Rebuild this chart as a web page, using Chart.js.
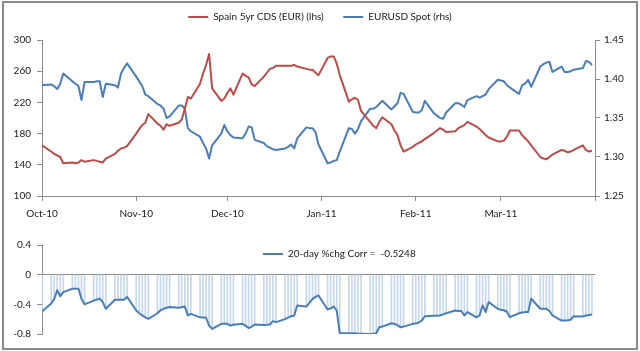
<!DOCTYPE html>
<html>
<head>
<meta charset="utf-8">
<script src="https://cdn.jsdelivr.net/npm/chart.js@4.4.1/dist/chart.umd.min.js"></script>
<style>
html,body{margin:0;padding:0;background:#fff;}
#wrap{position:relative;width:640px;height:351px;overflow:hidden;background:#fff;}
#frame{position:absolute;left:2px;top:1px;width:632px;height:345px;border:2px solid #8a8a8a;}
#c1{position:absolute;left:0;top:0;}
#c2{position:absolute;left:0;top:222px;}
</style>
</head>
<body>
<div id="wrap">
  <div id="frame"></div>
  <canvas id="c1" width="640" height="222"></canvas>
  <canvas id="c2" width="640" height="126"></canvas>
</div>
<script>
// ---------------- DATA ----------------
const dates = [
 '2010-10-01','2010-10-04','2010-10-05','2010-10-06','2010-10-07','2010-10-08','2010-10-11','2010-10-12','2010-10-13','2010-10-14','2010-10-15',
 '2010-10-18','2010-10-19','2010-10-20','2010-10-21','2010-10-22','2010-10-25','2010-10-26','2010-10-27','2010-10-28','2010-10-29',
 '2010-11-01','2010-11-02','2010-11-03','2010-11-04','2010-11-05','2010-11-08','2010-11-09','2010-11-10','2010-11-11','2010-11-12',
 '2010-11-15','2010-11-16','2010-11-17','2010-11-18','2010-11-19','2010-11-22','2010-11-23','2010-11-24','2010-11-25','2010-11-26','2010-11-29','2010-11-30',
 '2010-12-01','2010-12-02','2010-12-03','2010-12-06','2010-12-07','2010-12-08','2010-12-09','2010-12-10','2010-12-13','2010-12-14','2010-12-15',
 '2010-12-16','2010-12-17','2010-12-20','2010-12-21','2010-12-22','2010-12-23','2010-12-24','2010-12-27','2010-12-28','2010-12-29','2010-12-30','2010-12-31',
 '2011-01-03','2011-01-04','2011-01-05','2011-01-06','2011-01-07','2011-01-10','2011-01-11','2011-01-12','2011-01-13','2011-01-14',
 '2011-01-17','2011-01-18','2011-01-19','2011-01-20','2011-01-21','2011-01-24','2011-01-25','2011-01-26','2011-01-27','2011-01-28','2011-01-31',
 '2011-02-01','2011-02-02','2011-02-03','2011-02-04','2011-02-07','2011-02-08','2011-02-09','2011-02-10','2011-02-11','2011-02-14',
 '2011-02-15','2011-02-16','2011-02-17','2011-02-18','2011-02-21','2011-02-22','2011-02-23','2011-02-24','2011-02-25','2011-02-28',
 '2011-03-01','2011-03-02','2011-03-03','2011-03-04','2011-03-07','2011-03-08','2011-03-09','2011-03-10','2011-03-11','2011-03-14','2011-03-15',
 '2011-03-16','2011-03-17','2011-03-18','2011-03-21','2011-03-22','2011-03-23','2011-03-24','2011-03-25','2011-03-28','2011-03-29','2011-03-30','2011-03-31'
];

const spainCds = [
 165,157,154,152,150,142,143,142,143,146,144,146,145,144,143,148,154,158,161,162,164,
 180,186,191,194,205,193,190,185,192,190,194,198,212,227,225,244,257,268,282,238,222,225,
 232,238,230,257,254,252,243,241,253,258,263,264,267,267,267,267,268,266,263,262,262,258,255,
 277,279,279,270,255,221,224,226,223,209,195,190,187,195,201,192,184,178,165,157,163,
 166,168,170,173,181,184,187,185,182,183,187,189,191,195,189,186,182,178,175,170,
 170,171,176,184,184,178,174,170,165,150,148,147,150,153,159,158,156,157,159,165,159,157,158
];

const eurusd = [
 1.392,1.393,1.391,1.387,1.394,1.407,1.397,1.394,1.391,1.373,1.396,1.396,1.397,1.397,1.377,1.394,1.392,1.389,1.407,1.414,1.420,
 1.403,1.397,1.391,1.380,1.378,1.368,1.366,1.362,1.350,1.352,1.366,1.366,1.362,1.337,1.333,1.326,1.318,1.311,1.298,1.315,1.330,1.341,
 1.333,1.328,1.325,1.324,1.330,1.339,1.338,1.322,1.318,1.314,1.312,1.310,1.309,1.311,1.313,1.316,1.311,1.324,1.338,1.337,1.337,1.332,1.316,
 1.292,1.293,1.295,1.296,1.307,1.337,1.336,1.330,1.336,1.346,1.362,1.362,1.364,1.368,1.372,1.361,1.365,1.369,1.382,1.381,1.358,
 1.357,1.357,1.360,1.372,1.356,1.353,1.350,1.349,1.357,1.369,1.369,1.367,1.364,1.373,1.378,1.376,1.378,1.380,1.387,1.399,
 1.398,1.397,1.392,1.389,1.381,1.392,1.394,1.399,1.390,1.416,1.419,1.421,1.422,1.409,1.416,1.409,1.409,1.410,1.412,1.414,1.423,1.422,1.418
];

const corr20d = [
 -0.496,-0.39,-0.33,-0.21,-0.29,-0.235,-0.19,-0.19,-0.19,-0.325,-0.40,-0.35,-0.335,-0.325,-0.37,-0.46,-0.338,-0.338,-0.338,-0.338,-0.30,
 -0.483,-0.52,-0.55,-0.575,-0.595,-0.52,-0.48,-0.46,-0.447,-0.435,-0.445,-0.44,-0.43,-0.55,-0.528,-0.575,-0.578,-0.582,-0.686,-0.73,-0.663,-0.663,
 -0.663,-0.686,-0.675,-0.663,-0.69,-0.72,-0.70,-0.672,-0.677,-0.675,-0.672,-0.627,-0.64,-0.60,-0.58,-0.56,-0.55,-0.415,-0.43,-0.38,-0.33,-0.30,-0.28,
 -0.47,-0.455,-0.43,-0.483,-0.79,-0.79,-0.79,-0.79,-0.795,-0.795,-0.80,-0.795,-0.79,-0.71,-0.70,-0.655,-0.665,-0.68,-0.71,-0.70,-0.663,
 -0.66,-0.645,-0.62,-0.56,-0.555,-0.553,-0.55,-0.535,-0.52,-0.483,-0.49,-0.49,-0.55,-0.505,-0.575,-0.55,-0.415,-0.505,-0.37,-0.46,
 -0.474,-0.48,-0.50,-0.573,-0.52,-0.51,-0.505,-0.505,-0.325,-0.46,-0.46,-0.46,-0.49,-0.55,-0.618,-0.618,-0.615,-0.609,-0.56,-0.564,-0.55,-0.545,-0.537
];

const corrValue = '-0.5248';
const seriesNames = ['Spain 5yr CDS (EUR) (lhs)', 'EURUSD Spot (rhs)', '20-day %chg Corr =  ' + corrValue];

const monthTickDates = ['2010-10-01','2010-11-01','2010-12-01','2011-01-01','2011-02-01','2011-03-01','2011-04-01'];
const monthTickLabels = ['Oct-10','Nov-10','Dec-10','Jan-11','Feb-11','Mar-11',''];
const cdsTicks = [100,140,180,220,260,300];
const fxTicks = [1.25,1.30,1.35,1.40,1.45];
const corrTicks = [-0.8,-0.4,0,0.4];

// ---------------- HELPERS ----------------
const ORIGIN = Date.UTC(2010,9,1);
const toDay = s => { const p = s.split('-').map(Number); return Math.round((Date.UTC(p[0],p[1]-1,p[2]) - ORIGIN)/864e5); };
const xDays = dates.map(toDay);
const tickDays = monthTickDates.map(toDay);
const pts = arr => arr.map((v,i)=>({x:xDays[i], y:v}));

const FONT = "Lato, 'Liberation Sans', sans-serif";
Chart.defaults.font.family = FONT;
Chart.defaults.font.size = 10;
Chart.defaults.color = '#1a1a1a';
const AXIS = '#8c8c8c';
const RED = '#be4b48';
const BLUE = '#4a7ebb';
const DROP = '#c6d8ef';

const legendHeightPlugin = h => ({
  id: 'legendHeight',
  beforeInit(chart) {
    const lg = chart.legend; if (!lg) return;
    const f = lg.fit.bind(lg);
    lg.fit = function(){ f(); this.height = h; };
  }
});
const legendShiftPlugin = (dx, dy) => ({
  id: 'legendShift',
  afterLayout(chart) {
    const lg = chart.legend;
    if (lg) { lg.left += dx; lg.right += dx; lg.top += dy; lg.bottom += dy; }
  }
});
const lineLegendLabels = chart => chart.data.datasets
  .map((ds,i)=>({ds,i}))
  .filter(o=>o.ds.showInLegend !== false)
  .map(o=>({ text: o.ds.legendText || o.ds.label, fillStyle: o.ds.borderColor, strokeStyle: o.ds.borderColor,
            lineWidth: 0, hidden: false, datasetIndex: o.i, fontColor: '#1a1a1a' }));

// ---------------- TOP CHART ----------------
new Chart(document.getElementById('c1'), {
  type: 'line',
  data: {
    datasets: [
      { label: seriesNames[0], legendText: seriesNames[0] + '\u2003', data: pts(spainCds), yAxisID: 'y',
        borderColor: RED, backgroundColor: RED, borderWidth: 2, pointRadius: 0, tension: 0, borderJoinStyle: 'round' },
      { label: seriesNames[1], data: pts(eurusd), yAxisID: 'y1',
        borderColor: BLUE, backgroundColor: BLUE, borderWidth: 2, pointRadius: 0, tension: 0, borderJoinStyle: 'round' }
    ]
  },
  options: {
    responsive: false, animation: false, events: [],
    layout: { padding: { top: 0, left: 0, right: 0, bottom: 0 } },
    plugins: {
      tooltip: { enabled: false },
      legend: { display: true, position: 'top',
        labels: { boxWidth: 20, boxHeight: 2, padding: 12, font: { size: 10, family: FONT }, generateLabels: lineLegendLabels } }
    },
    scales: {
      x: { type: 'linear', min: 0, max: 182, offset: false,
        afterBuildTicks: s => { s.ticks = tickDays.map(v=>({value:v})); },
        ticks: { autoSkip: false, maxRotation: 0, padding: 7, callback: (v,i)=>monthTickLabels[i] },
        grid: { drawOnChartArea: false, drawTicks: true, tickLength: 5, color: AXIS },
        border: { color: AXIS, width: 1 },
        afterFit: s => { s.height = 26; } },
      y: { position: 'left', min: 100, max: 300,
        afterBuildTicks: s => { s.ticks = cdsTicks.map(v=>({value:v})); },
        ticks: { padding: 6 },
        grid: { drawOnChartArea: false, tickLength: 5, color: AXIS },
        border: { color: AXIS, width: 1 },
        afterFit: s => { s.width = 42; } },
      y1: { position: 'right', min: 1.25, max: 1.45,
        afterBuildTicks: s => { s.ticks = fxTicks.map(v=>({value:v})); },
        ticks: { padding: 4, callback: v => Number(v).toFixed(2) },
        grid: { drawOnChartArea: false, tickLength: 5, color: AXIS },
        border: { color: AXIS, width: 1 },
        afterFit: s => { s.width = 45; } }
    }
  },
  plugins: [legendHeightPlugin(40)]
});

// ---------------- BOTTOM CHART ----------------
new Chart(document.getElementById('c2'), {
  type: 'line',
  data: {
    datasets: [
      { type: 'line', label: seriesNames[2], data: pts(corr20d), borderColor: BLUE, backgroundColor: BLUE,
        borderWidth: 2, pointRadius: 0, tension: 0, borderJoinStyle: 'round', order: 0 },
      { type: 'bar', label: 'drop lines', showInLegend: false, data: pts(corr20d), backgroundColor: DROP,
        barThickness: 1, grouped: false, order: 1 }
    ]
  },
  options: {
    responsive: false, animation: false, events: [],
    layout: { padding: { top: 23, left: 0, right: 45, bottom: 14 } },
    plugins: {
      tooltip: { enabled: false },
      legend: { display: true, position: 'chartArea', align: 'start',
        labels: { boxWidth: 20, boxHeight: 2, padding: 4, font: { size: 10, family: FONT }, generateLabels: lineLegendLabels } }
    },
    scales: {
      x: { type: 'linear', min: 0, max: 182, offset: false, display: false },
      y: { position: 'left', min: -0.8, max: 0.4,
        afterBuildTicks: s => { s.ticks = corrTicks.map(v=>({value:v})); },
        ticks: { padding: 6, callback: v => (Math.abs(v) < 1e-9 ? '0' : Number(v).toFixed(1)) },
        grid: { drawOnChartArea: true, tickLength: 5,
                color: c => (c.tick && Math.abs(c.tick.value) < 1e-9) ? AXIS : 'rgba(0,0,0,0)',
                tickColor: AXIS },
        border: { color: AXIS, width: 1 },
        afterFit: s => { s.width = 42; } }
    }
  },
  plugins: [legendShiftPlugin(217, 23)]
});
</script>
</body>
</html>
